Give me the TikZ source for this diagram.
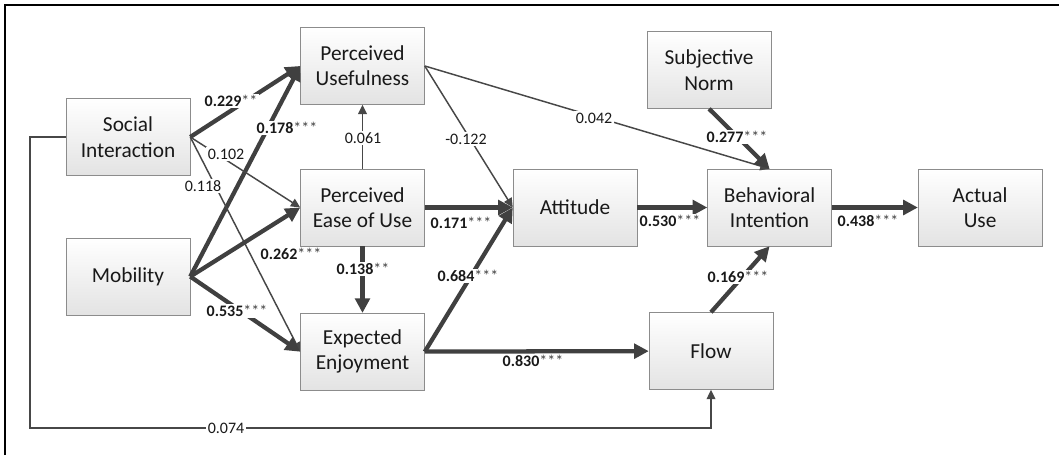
\documentclass[tikz,border=0pt]{standalone}
\usepackage{fontspec}
\setmainfont{Carlito}
\usetikzlibrary{positioning, arrows.meta}

\tikzset{
  construct/.style={rectangle, draw=black!45, top color=white, bottom color=black!11, align=center, minimum width=93pt, minimum height=57.75pt, inner sep=2pt, font=\fontsize{16}{19}\selectfont, text=black!90},
  coef/.style={fill=white, inner sep=1pt, font=\fontsize{12}{13}\selectfont, text=black!90},
  weak/.style={draw=black!72, line width=1.1pt, -{Triangle[length=7pt, width=6.5pt]}},
  strong/.style={draw=black!75, line width=3.2pt, -{Triangle[length=11pt, width=11pt]}},
}
\newcommand{\sig}[2]{\textbf{#1}{\color{black!75}#2}}

\begin{document}
\begin{tikzpicture}[x=0.75pt, y=-0.75pt]
		\useasboundingbox (0,0) rectangle (1059,455);
		\draw[line width=1.5pt] (5,455) -- (5,5) -- (1059,5);
		% constructs
		\node[construct] (PEoU) at (362.5,207.5) {Perceived\\Ease of Use};
		\node[construct, above=48pt of PEoU] (PU) {Perceived\\Usefulness};
		\node[construct, below=50pt of PEoU] (EE) {Expected\\Enjoyment};
		\node[construct] (SI) at (128,137) {Social\\Interaction};
		\node[construct, below=46.5pt of SI] (Mob) {Mobility};
		\node[construct, right=66pt of PEoU] (Att) {Attitude};
		\node[construct, right=52.5pt of Att] (BI) {Behavioral\\Intention};
		\node[construct, right=64.5pt of BI] (AU) {Actual\\Use};
		\node[construct] (SN) at (709,70) {Subjective\\Norm};
		\node[construct] (Flow) at (711,351) {Flow};
		% paths
		\draw[strong] (SI.east) -- (PU.west);
		\draw[strong] (Mob.east) -- (PU.west);
		\draw[weak] (SI.east) -- (PEoU.west);
		\draw[weak] (SI.east) -- (EE.west);
		\draw[strong] (Mob.east) -- (PEoU.west);
		\draw[strong] (Mob.east) -- (EE.west);
		\draw[weak] (PEoU.north) -- (PU.south);
		\draw[strong] (PEoU.south) -- (EE.north);
		\draw[strong] (PEoU.east) -- (Att.west);
		\draw[weak] (PU.east) -- (Att.west);
		\draw[weak] (PU.east) -- (BI.north);
		\draw[strong] (SN.south) -- (BI.north);
		\draw[strong] (Att) -- (BI);
		\draw[strong] (BI) -- (AU);
		\draw[strong] (EE.east) -- (Att.west);
		\draw[strong] (EE) -- (Flow);
		\draw[strong] (Flow.north) -- (BI.south);
		\coordinate (bend) at (30,428);
		\draw[weak] (SI.west) -| (bend) -| (Flow.south);
		% coefficients
		\node[coef] (c229) at (231,101) {\sig{0.229}{**}};
		\node[coef] (c178) at (287,128) {\sig{0.178}{***}};
		\node[coef] (c102) at (226,154) {0.102};
		\node[coef] (c118) at (203,186) {0.118};
		\node[coef] (c262) at (291,254) {\sig{0.262}{***}};
		\node[coef] (c535) at (237,311) {\sig{0.535}{***}};
		\node[coef] (c061) at (363,138) {0.061};
		\node[coef] (c138) at (363,269) {\sig{0.138}{**}};
		\node[coef] (c122) at (466,139) {-0.122};
		\node[coef] (c171) at (461,223) {\sig{0.171}{***}};
		\node[coef] (c684) at (468,276) {\sig{0.684}{***}};
		\node[coef] (c830) at (533,361) {\sig{0.830}{***}};
		\node[coef] (c042) at (594,118) {0.042};
		\node[coef] (c277) at (737,137) {\sig{0.277}{***}};
		\node[coef] (c530) at (670,221) {\sig{0.530}{***}};
		\node[coef] (c438) at (868,221) {\sig{0.438}{***}};
		\node[coef] (c169) at (738,277) {\sig{0.169}{***}};
		\node[coef] (c074) at (226,428) {0.074};
\end{tikzpicture}
\end{document}
